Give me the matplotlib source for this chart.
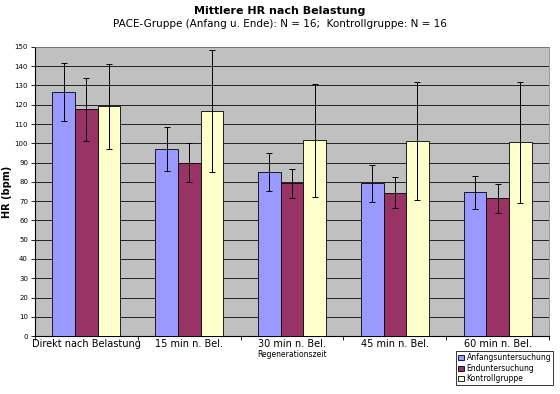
import matplotlib.pyplot as plt
import numpy as np

categories = ["Direkt nach Belastung", "15 min n. Bel.", "30 min n. Bel.",
              "45 min n. Bel.", "60 min n. Bel."]
series_names = ["Anfangsuntersuchung", "Enduntersuchung", "Kontrollgruppe"]
anfang = [126.5, 97.0, 85.3, 79.2, 74.6]
anfang_sd = [15.0, 11.5, 9.8, 9.5, 8.5]
ende = [117.6, 90.0, 79.2, 74.4, 71.5]
ende_sd = [16.5, 10.0, 7.5, 8.0, 7.5]
kontrolle = [119.2, 116.6, 101.5, 101.2, 100.5]
kontrolle_sd = [22.0, 31.6, 29.3, 30.5, 31.5]
colors = ["#9999FF", "#993366", "#FFFFCC"]

fig = plt.figure(figsize=(5.6, 3.94), dpi=100)
ax = fig.add_axes([0.0625, 0.147, 0.918, 0.734])
ax.set_facecolor("#C0C0C0")

x = np.arange(len(categories))
w = 0.22
values = [anfang, ende, kontrolle]
errors = [anfang_sd, ende_sd, kontrolle_sd]
for i, (vals, errs) in enumerate(zip(values, errors)):
    ax.bar(x + (i - 1) * w, vals, w, yerr=errs, color=colors[i],
           edgecolor="black", linewidth=0.6, label=series_names[i], zorder=3,
           error_kw=dict(ecolor="black", elinewidth=0.7, capsize=2.2, capthick=0.7))

ax.set_xlim(-0.5, len(categories) - 0.5)
ax.set_ylim(0, 150)
ax.set_yticks(np.arange(0, 151, 10))
ax.yaxis.grid(True, color="#222222", linewidth=0.7, zorder=0)
ax.set_axisbelow(True)
ax.tick_params(axis="y", labelsize=5, length=3, width=0.6, direction="out", pad=2)
ax.set_xticks(x)
ax.set_xticklabels(categories, fontsize=7)
ax.set_xticks(np.arange(-0.5, len(categories)), minor=True)
ax.tick_params(axis="x", which="major", length=0, pad=2)
ax.tick_params(axis="x", which="minor", length=3, width=0.6)
for side in ["top", "right"]:
    ax.spines[side].set_color("#888888")
    ax.spines[side].set_linewidth(0.6)
for side in ["left", "bottom"]:
    ax.spines[side].set_linewidth(0.8)

ax.set_ylabel("HR (bpm)", fontsize=7, fontweight="bold")
ax.yaxis.set_label_coords(-0.045, 0.5)
ax.set_xlabel("Regenerationszeit", fontsize=5.5, labelpad=1)

fig.text(0.5, 0.972, "Mittlere HR nach Belastung", ha="center", va="center",
         fontsize=8, fontweight="bold")
fig.text(0.5, 0.94, "PACE-Gruppe (Anfang u. Ende): N = 16;  Kontrollgruppe: N = 16",
         ha="center", va="center", fontsize=7.5)

leg = fig.legend(loc="upper right", bbox_to_anchor=(0.988, 0.108), fontsize=5.5,
                 frameon=True, fancybox=False, edgecolor="black",
                 handlelength=0.9, handleheight=0.6, handletextpad=0.3,
                 borderpad=0.25, labelspacing=0.2, borderaxespad=0)
leg.get_frame().set_linewidth(0.7)

fig.savefig("out.png", dpi=100)
